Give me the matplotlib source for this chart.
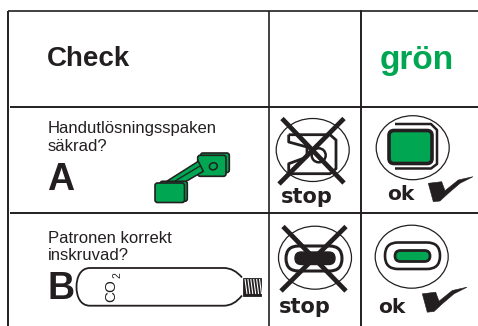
"""Check table: hand release lever and CO2 cartridge, stop/ok icons."""
import matplotlib

matplotlib.use("Agg")
import matplotlib.pyplot as plt
from matplotlib.patches import Ellipse, FancyBboxPatch, PathPatch, Polygon
from matplotlib.path import Path

plt.rcParams.update({"font.family": ["Liberation Sans", "DejaVu Sans"]})

INK = "#231f20"
GREEN = "#00a651"

HEADERS = ["Check", "grön"]
QUESTIONS = ["Handutlösningsspaken\nsäkrad?", "Patronen korrekt\ninskruvad?"]
ROW_LETTERS = ["A", "B"]
STOP_LABEL = "stop"
OK_LABEL = "ok"


def rbox(ax, x0, y0, x1, y1, r, fc="none", ec=INK, lw=1.5, z=2):
    ax.add_patch(FancyBboxPatch((x0 + r, y0 + r), x1 - x0 - 2 * r, y1 - y0 - 2 * r,
                                boxstyle=f"round,pad={r}", fc=fc, ec=ec, lw=lw, zorder=z))


def line(ax, xs, ys, lw=1.5, z=3, color=INK):
    ax.plot(xs, ys, color=color, lw=lw, zorder=z, solid_capstyle="butt", solid_joinstyle="round")


def cross(ax, x0, y0, x1, y1, x2, y2, x3, y3):
    line(ax, [x0, x1], [y0, y1], lw=3.4, z=5)
    line(ax, [x2, x3], [y2, y3], lw=3.4, z=5)


def tick(ax, dx, dy):
    xs = [428.3, 441.7, 445, 458.3, 473, 460, 448.3, 440, 433.3]
    ys = [183.3, 181.7, 190.7, 180, 176.7, 183.3, 193.3, 201, 201.7]
    ax.add_patch(Polygon([(x + dx, y + dy) for x, y in zip(xs, ys)], closed=True,
                         fc=INK, ec=INK, lw=0.4, zorder=4))


fig = plt.figure(figsize=(4.78, 3.26), dpi=100)
ax = fig.add_axes([0, 0, 1, 1])
ax.set_xlim(0, 478)
ax.set_ylim(326, 0)
ax.axis("off")

# grid, there is no right or bottom border
line(ax, [8.5, 8.5], [11, 326], lw=1.4)
line(ax, [8, 478], [11, 11], lw=1.2)
line(ax, [10, 478], [106.5, 106.5], lw=1.4)
line(ax, [10, 478], [213, 213], lw=1.4)
line(ax, [269.5, 269.5], [11, 326], lw=1.2)
line(ax, [361, 361], [10, 326], lw=1.4)

ax.text(46.5, 66, HEADERS[0], fontsize=20, fontweight="bold", color=INK, va="baseline")
ax.text(379.5, 69, HEADERS[1], fontsize=24, fontweight="bold", color=GREEN, va="baseline")

for (q, letter, yq, yl) in zip(QUESTIONS, ROW_LETTERS, (133.3, 242.7), (189.5, 299)):
    first, second = q.split("\n")
    ax.text(48, yq, first, fontsize=12, color=INK, va="baseline")
    ax.text(48, yq + 17.5, second, fontsize=12, color=INK, va="baseline")
    ax.text(47.5, yl, letter, fontsize=27, fontweight="bold", color=INK, va="baseline")

# lever
rbox(ax, 200.5, 153, 229.3, 172.5, 2.5, fc=GREEN, lw=1.2, z=2)
rbox(ax, 197.7, 155.3, 226, 176.3, 2.5, fc=GREEN, lw=1.2, z=3)
ax.add_patch(Polygon([(166.7, 181.3), (198.3, 161.3), (203.3, 171.3), (183.3, 183)], closed=True,
                     fc=GREEN, ec=INK, lw=1.1, zorder=4))
line(ax, [175, 200], [181, 166], lw=0.9, z=4)
rbox(ax, 160, 181.3, 187.3, 201.3, 2.5, fc=GREEN, lw=1.2, z=4)
rbox(ax, 155, 183, 184.5, 202.5, 2.5, fc=GREEN, lw=1.2, z=5)
ax.add_patch(Ellipse((213.3, 166.3), 8, 7, angle=-20, fc="none", ec=INK, lw=1.1, zorder=5))

# CO2 cartridge
bottle = Path([(242, 277.5), (234, 268), (224, 268), (90, 268), (80, 268), (76.5, 278), (76.5, 287),
               (76.5, 296), (80, 305.7), (90, 305.7), (224, 305.7), (234, 305.7), (242, 295.5)],
              [Path.MOVETO, Path.CURVE3, Path.CURVE3, Path.LINETO, Path.CURVE4, Path.CURVE4,
               Path.CURVE4, Path.CURVE4, Path.CURVE4, Path.CURVE4, Path.LINETO, Path.CURVE3,
               Path.CURVE3])
ax.add_patch(PathPatch(bottle, fc="none", ec=INK, lw=1.3, zorder=3))
ax.add_patch(Polygon([(243, 277.5), (261, 277.5), (261, 295.5), (243, 295.5)], closed=True,
                     fc=INK, ec=INK, lw=0.6, zorder=3))
for i in range(6):
    x = 245 + i * 2.9
    line(ax, [x, x + 2], [279, 294], lw=0.8, z=4, color="white")
ax.text(111.5, 290.5, "CO", fontsize=11, color=INK, rotation=90, ha="center", va="center")
ax.text(117.5, 275, "2", fontsize=7.5, color=INK, rotation=90, ha="center", va="center")

# stop A
ax.add_patch(Ellipse((312.7, 150), 73, 63, fc="none", ec=INK, lw=0.9, zorder=2))
line(ax, [288.7, 330, 336, 336, 330, 288.7, 288.7, 307, 307, 288.7, 288.7],
     [134.7, 134.7, 140, 168.7, 173.7, 173.7, 163.7, 157, 147, 142, 134.7], lw=2.0)
ax.add_patch(Ellipse((318.7, 155.3), 14, 14, fc="none", ec=INK, lw=1.8, zorder=3))
cross(ax, 282, 118.5, 344, 183, 344, 118.5, 279, 184)

# ok A
ax.add_patch(Ellipse((412.7, 147.7), 73, 64, fc="none", ec=INK, lw=0.9, zorder=2))
rbox(ax, 389, 130.5, 432, 163.5, 5, fc=GREEN, lw=2.6, z=3)
line(ax, [395, 431, 437, 437, 431, 395], [124, 124, 130, 164, 168.5, 168.5], lw=1.8)

# stop B
ax.add_patch(Ellipse((315, 257.7), 73, 63, fc="none", ec=INK, lw=0.9, zorder=2))
rbox(ax, 286, 246, 342, 271, 12.5, lw=2.2, z=3)
rbox(ax, 295, 252, 335, 264.5, 6.2, fc=INK, lw=1, z=4)
cross(ax, 283, 226.5, 346, 291, 346, 226.5, 281, 291)

# ok B
ax.add_patch(Ellipse((411.7, 256.7), 73, 63, fc="none", ec=INK, lw=0.9, zorder=2))
rbox(ax, 385, 242.5, 440, 269, 13, lw=1.9, z=3)
rbox(ax, 395, 250.5, 430, 261.5, 5.5, fc=GREEN, lw=2.0, z=4)

# stop / ok labels, wide bold face
for (x, y, s) in [(280.5, 203, STOP_LABEL), (279, 313, STOP_LABEL)]:
    ax.text(x, y, s, fontsize=15, fontweight="bold", family="DejaVu Sans", color=INK, va="baseline")
for (x, y, s) in [(387.5, 199.5, OK_LABEL), (378.5, 313, OK_LABEL)]:
    ax.text(x, y, s, fontsize=14.5, fontweight="bold", family="DejaVu Sans", color=INK, va="baseline")

tick(ax, 0, 0)
tick(ax, -6, 110.5)

fig.savefig("out.png", dpi=100)
